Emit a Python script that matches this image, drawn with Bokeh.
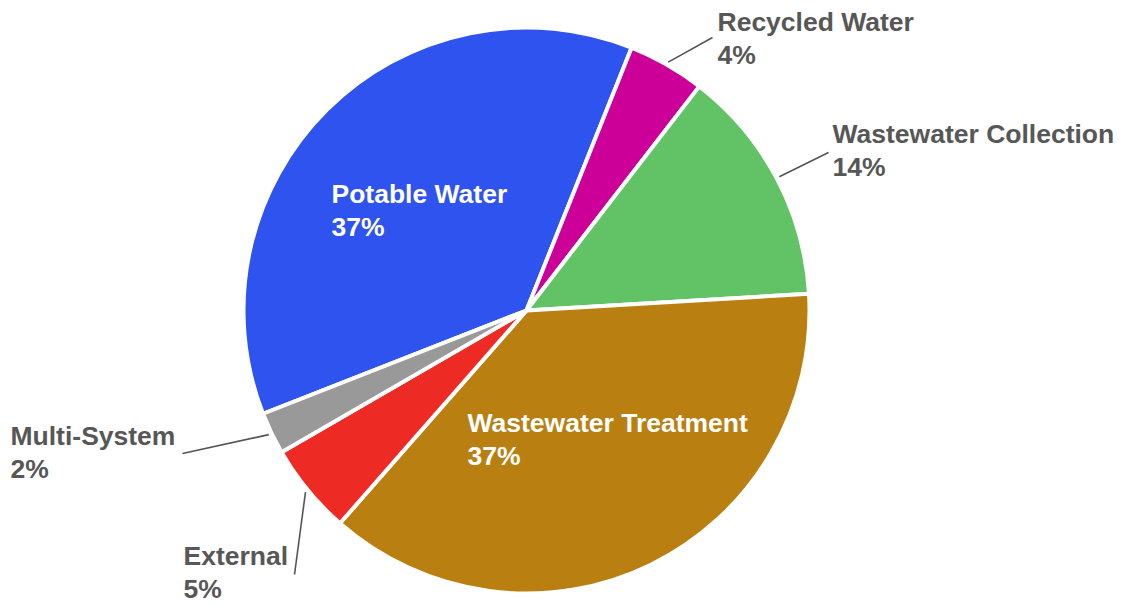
import math
from bokeh.plotting import figure
from bokeh.models import Range1d, ColumnDataSource
from bokeh.core.properties import value
from bokeh.embed import file_html
from bokeh.resources import INLINE

# ---- data ----
categories = ["Potable Water", "Recycled Water", "Wastewater Collection",
              "Wastewater Treatment", "External", "Multi-System"]
shares = [37.0, 4.4, 13.6, 37.4, 5.2, 2.4]
colors = ["#2f53ef", "#cc0099", "#62c366", "#b98011", "#ee2a25", "#999999"]

# ---- layout (screen pixels, y downward) ----
W, H = 1123, 604
CX, CY, R = 526, 310, 283
START_DEG = -111.4  # clockwise from 12 o'clock
inside = {"Potable Water", "Wastewater Treatment"}
label_pos = {
    "Potable Water": (331, 193),
    "Recycled Water": (717, 21),
    "Wastewater Collection": (832, 133),
    "Wastewater Treatment": (467, 422),
    "External": (183, 555),
    "Multi-System": (10, 435),
}
leader_end = {
    "Recycled Water": (712, 37),
    "Wastewater Collection": (828, 152),
    "Multi-System": (182, 453),
    "External": (294, 574),
}
LINE_GAP = 33

p = figure(width=W, height=H, output_backend="svg", toolbar_location=None,
           x_range=Range1d(0, W), y_range=Range1d(0, H),
           min_border=0, background_fill_color="white", border_fill_color="white")
p.axis.visible = False
p.grid.visible = False
p.outline_line_color = None

total = sum(shares)
starts, ends, mids = [], [], []
acc = START_DEG
for s in shares:
    a0 = acc
    a1 = acc + s / total * 360.0
    starts.append(math.radians(90 - a0))
    ends.append(math.radians(90 - a1))
    mids.append((a0 + a1) / 2)
    acc = a1

src = ColumnDataSource(dict(start=starts, end=ends, color=colors, cat=categories))
p.wedge(x=CX, y=H - CY, radius=R, start_angle="start", end_angle="end",
        direction="clock", fill_color="color", line_color="white", line_width=4,
        source=src)

font = value("Liberation Sans")
for cat, s, m in zip(categories, shares, mids):
    lx, ly = label_pos[cat]
    col = "white" if cat in inside else "#575757"
    pct = f"{round(s / total * 100)}%"
    p.text(x=[lx], y=[H - ly], text=[cat], text_font=font, text_font_style="bold",
           text_font_size="26.5px", text_color=col, text_baseline="alphabetic",
           text_align="left")
    p.text(x=[lx], y=[H - ly - LINE_GAP], text=[pct], text_font=font,
           text_font_style="bold", text_font_size="26.5px", text_color=col,
           text_baseline="alphabetic", text_align="left")
    if cat in leader_end:
        rad = R + 3
        sx = CX + rad * math.sin(math.radians(m))
        sy = CY - rad * math.cos(math.radians(m))
        ex, ey = leader_end[cat]
        p.line(x=[sx, ex], y=[H - sy, H - ey], line_color="#555555", line_width=1.6)

open("out.html", "w").write(file_html(p, INLINE))
